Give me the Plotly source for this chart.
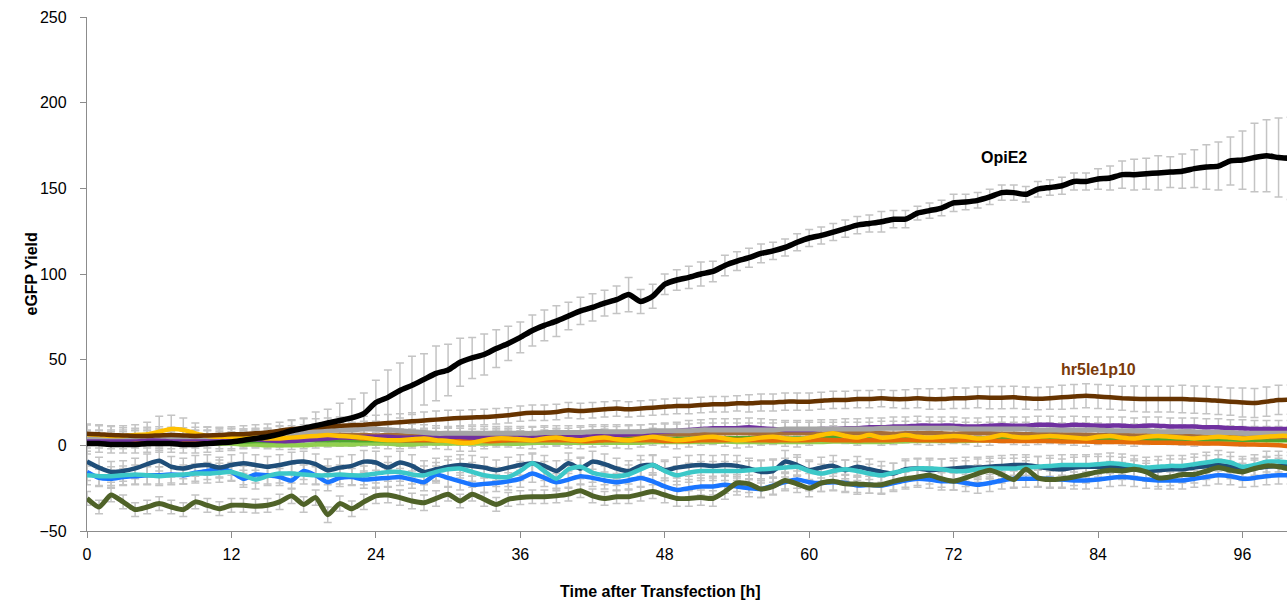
import plotly.graph_objects as go

# ---------------- data (hourly, 0..100 h) ----------------
opie2 = [1,1,0.5,0.5,0.5,1,1,1,0.5,0.5,
         1,1.5,2,3,4,5,6.5,8.5,10,11.5,
         13,14.5,16,18.5,25,28,32,35,38.5,42,
         44,48.5,51,53,56.5,59.5,63,67,70,72.5,
         75.5,78.5,80.5,83,85,88,84,87,94,96.5,
         98,100,101.5,105,107.5,109.5,112,113.5,115.5,118.5,
         121,122.5,124.5,126.5,128.5,129.5,130.5,132,132,135.5,
         137,138.5,141.5,142,143,145,147.5,147.5,146.5,149.5,
         150.5,151.5,154,154,155.5,156,158,158,158.5,159,
         159.5,160,161.5,162.5,163,166,166.5,168,169,168,
         167.5]
opie2_err = [6,5,5,5,5,5,5,5,5,5,
             5,5,5,5,5,5,5,6,6,8,
             8,10,11,12,13,16,16,17,15,16,
             15,14,12,12,11,10,9,9,9,9,
             8,8,8,7.5,8,10,7,7,6,6,
             6.5,7,6,6,5.5,5.5,5.5,5,5,5,
             5,5,5,5,5,5,6,5,5,4,
             4.5,4.5,5,4.5,4.5,4.5,4.5,4.5,4.5,4.5,
             4.5,5,5,5,6,7,8,9,9,10,
             9,10,11,13,14,14,17,20,21,23,
             24]

hr5 = [6.8,6.5,6,5.8,5.5,5.5,5.8,6,5.8,5.5,
       5.8,6,6.4,6.5,7,7.5,8.5,9.5,10,10.5,
       11,11.5,11.7,12,12.5,13,13.5,14,14.5,15,
       15.5,16,16.3,16.5,17,17.5,18.5,19,19,19.5,
       20.5,20,20.5,21,21.5,21,21.5,22,22.5,23,
       23,23.5,24,24,24.5,24.5,25,25,25.5,25.5,
       25.5,26,26.5,26.5,27,27,27.5,27,27,27.5,
       27,27,27.5,27.5,28,27.8,27.8,28,27.5,27.2,
       27.5,28,28.5,29,28.5,28,27.5,27.2,27,27,
       27,27,26.7,26.5,26,25.5,25,24.7,25.5,26.5,
       26.7]
hr5_err = [5,5,5,4.5,4.5,5,5,4.5,4.5,5,
           5,4.5,4.5,5,5,5,5,5.5,5.5,5,
           5,5,5,5,5,5,5,5,5,5,
           5,4.5,4.5,4.5,4.5,4.5,4.5,4.5,4.5,4.5,
           4.5,4.5,4.5,4.5,4.5,4.5,4.5,4.5,4.5,4.5,
           4.5,4.5,4.5,4.5,4.5,5,5,5,5,5,
           5,5,5,5,5,5,5,5,5.5,5.5,
           6,6,6,6,6,6.5,6.5,6.5,6.5,6.5,
           6.5,7,7,7,7,7,7,7.5,7.5,7.5,
           7.5,8,8,8,8,8,8.5,8.5,8.5,8.5,
           8.5]

purple = [3.5,3.5,3,3,3.5,3.5,3,3,3.5,3.5,
          3.5,3,3,3.5,3.5,3,2.5,2.5,3,3.5,
          4,4.5,4.5,5,5,5,4.5,4.5,5,5,
          5,5,4.5,4.5,5,5,5,5.5,5.5,5,
          5,5.5,6,6,6,6.5,7,7.5,8,8.5,
          9,9.5,10,10,10,10.5,10,9.5,9,9,
          9,9.5,9.5,10,10,10.5,10.5,11,11,11.5,
          11.5,11.5,11.5,11,11,11.5,11.7,11.5,11.5,12,
          12,11.5,12,11.7,11.5,11.5,11.5,11,11.5,11.5,
          11,11,11,10.5,10.5,10,10,9.5,9.5,9.5,
          9.5]
purple_err = [5,5,5,5,5,5,5,5,5,5,
              5,5,5,5,5,5,5,5,5,5,
              5,5,5,5,5,5,5,5,5,5,
              5,5,5,5,5,5,5,5,5,5,
              5,5,5,5,5,5,5,5,5,5,
              5.5,5.5,5.5,5.5,5.5,5.5,5.5,5.5,5.5,5.5,
              5.5,5.5,5.5,5.5,5.5,5.5,5.5,5.5,5.5,5.5,
              5,5,5,5,5,5,5,5,5,5,
              5,5,5,5,5,5,5,5,5,5,
              5,5,5,5,5,5,5,5,5,5,
              5]

gray = [5,5,5,5,5,5.5,5.5,5,5,5,
        5,5,5.5,5.5,6,6,6.5,7,7.5,8,
        8.5,9,9,9.5,9.5,9,8.5,8,7.5,7,
        7,7,7,7,7,7,7,7,7.5,7.5,
        7.5,7.5,8,8,8,8,8,8.5,8.5,8.5,
        8.5,9,9,9,9,9,9,9,9.5,9.5,
        9.5,9.5,9.5,9.5,9.5,9.5,10,10,10,10,
        10,10,10,9.5,9.5,9.5,9.5,9.5,9.5,9,
        9,9,9,9,9,8.5,8.5,8.5,8.5,8,
        8,8,8,7.5,7.5,7.5,7,7,7,7,
        7]
gray_err = [4,4,4,4,4,4,4,4,4,4,
            4,4,4,4,4,4,4.5,4.5,4.5,4.5,
            4.5,4.5,4.5,4.5,4.5,4.5,4.5,4.5,4.5,4.5,
            4,4,4,4,4,4,4,4,4,4,
            4,4,4,4,4,4,4,4,4,4,
            4,4,4,4,4,4,4,4,4,4,
            4,4,4,4,4,4,4,4,4,4,
            4,4,4,4,4,4,4,4,4,4,
            4,4,4,4,4,4,4,4,4,4,
            4,4,4,4,4,4,4,4,4,4,
            4]

lbrown = [5.5,5.5,5,5,5,5,4.8,5,5,5.2,
          5,5,4.8,5,5,5.2,5.5,5.5,6,6,
          6,6.2,6,6,5.8,6,6,5.5,5.5,5.5,
          5.5,5.3,5.5,5.5,5.7,5.5,5.5,6,6,6,
          6,6.2,6,6,5.8,6,6,6.5,6.5,6.5,
          6.5,6.7,7,7,7.2,7,6.8,7,7,7.2,
          7,6.8,7,7,7.2,7,7,6.8,7,7,
          7.2,7,6.8,7,7,7,6.8,6.8,6.5,6.5,
          6.5,6.3,6.3,6.2,6,6,6,5.8,5.8,5.6,
          5.5,5.5,5.3,5.2,5.2,5,5,5,4.8,4.8,
          4.8]

yellow = [6.5,6,5.5,5.5,6,6.5,8,9.5,9,7,
          5.5,5,5,4.5,4.5,4,4,4.5,5,5.5,
          6,5.5,5,4.5,3.5,3,3,3.5,4,3,
          2.5,1.5,1.5,3,4,4,3.5,3,4,4.5,
          3.5,3,4,4.5,3.5,3,4,5,4,3,
          3.5,4.5,5,4,3,3.5,4.5,5,4,3.5,
          4.5,6,7,5.5,4.5,6,4.5,5,6,5,
          4.5,5,5.5,5,4,4.5,6,5,4.5,5,
          5.5,5,4.5,4,5,5.5,4.5,4,5,5.5,
          5,4.5,4,4.5,5,4.5,4,4.5,5,5.5,
          5.5]
yellow_err = [6,6,6,6,6,7,9,8,7,6,
              5,5,5,5,5,5,5,5,5,5,
              5,5,5,5,5,5,5,5,5,5,
              5,5,5,5,5,5,5,5,5,5,
              5,5,5,5,5,5,5,5,5,5,
              4.5,4.5,4.5,4.5,4.5,4.5,4.5,4.5,4.5,4.5,
              4.5,4.5,4.5,4.5,4.5,4.5,4.5,4.5,4.5,4.5,
              4.5,4.5,4.5,4.5,4.5,4.5,4.5,4.5,4.5,4.5,
              4.5,4.5,4.5,4.5,4.5,4.5,4.5,4.5,4.5,4.5,
              4.5,4.5,4.5,4.5,4.5,4.5,4.5,4.5,4.5,4.5,
              4.5]

orange = [3.5,3.5,3.5,3,3,3,3.5,3.5,3,3,
          3,3,3.5,3.5,4,4,3.5,3.5,4,4.5,
          5,5,4.5,4,4,3.5,3,3,3,3,
          3,3,3,2.5,2.5,3,3,3,3,3,
          3,2.5,2.5,3,3,3,3,3,2.5,2.5,
          2.5,3,3,3,3.2,3,3,2.8,3,3,
          3,3.2,3,3,2.8,3,3,3,3.2,3,
          3,2.8,2.8,3,3,2.8,2.6,2.5,2.5,2.5,
          2.5,2.3,2.3,2.2,2,2,2,1.8,1.6,1.5,
          1.5,1.3,1.2,1,1,0.8,0.6,0.5,0.3,0,
          -0.5]

lgreen = [1.5,1.5,1.5,1,1,1,1,1.5,1.5,1.5,
          1.5,1,1,0.5,0.5,0,0,0,0,0.5,
          0.5,0.5,0.5,1,1,1,0.5,0.5,1,1,
          1,1,1,1,1,1,1,1.5,1.5,1.5,
          1.5,1.5,1.5,1.5,1.5,1.5,1.5,2,2,2,
          2,2,2,2.2,2,2,1.8,2,2,2,
          2,2,2.2,2.2,2,2,2,2.2,2.4,2.5,
          2.5,2.5,2.5,2.6,2.8,3,3,3,3.2,3.2,
          3.3,3.5,3.5,3.5,3.5,3.5,3.5,3.5,3.5,3.5,
          3.5,3.3,3.3,3.2,3,3,3,3,2.8,2.8,
          2.8]

mgreen = [2.5,2.5,2.5,2.5,2.5,2.8,3,3,2.8,2.5,
          2.5,2.5,2.3,2.3,2.5,2.5,2.5,2.8,3,3,
          3,3,3,3,3,2.8,2.8,2.8,3,3,
          3,3,3,3,3,3,3.2,3.2,3.2,3.5,
          3.5,3.5,3.5,3.5,3.5,3.5,3.5,3.8,3.8,4,
          4,4,4,4.2,4.2,4.2,4.2,4,4,4,
          4,4.2,4.5,4.5,4.2,4,4,4,4.2,4.2,
          4,4,4,4,4,4,4,4,4,4,
          4,4,4,4,3.8,3.8,3.8,3.8,3.8,3.8,
          3.6,3.6,3.5,3.5,3.5,3.5,3.3,3.3,3.3,3.3,
          3.3]

navy = [-9.5,-13,-15.5,-15,-13.5,-11,-9,-12.5,-13.5,-12,
        -11.5,-13,-11.5,-10.5,-11.5,-12.5,-11.5,-10,-9.5,-11,
        -14.5,-13,-12,-9.5,-10,-13,-10,-12,-15.5,-14,
        -12.5,-11.5,-12,-13,-14.5,-13,-11.5,-10.5,-12,-15,
        -10.5,-13.5,-9.5,-11,-13.5,-15,-12,-11.5,-14.5,-13,
        -12,-11.5,-12,-11.5,-12,-13.5,-15.5,-15,-9.5,-11.5,
        -14.5,-13,-12,-14.5,-12.5,-14,-15.5,-16.5,-14,-13.5,
        -14.5,-14,-13.5,-13,-13,-12.5,-12,-11.5,-11.5,-12.5,
        -13.5,-14,-13,-12.5,-12.5,-12.5,-13,-14,-15,-14.5,
        -14,-14,-13,-12,-11.5,-12.5,-14,-13.5,-12.5,-12,
        -12]
navy_err = [6,6,6,6,6,6,6,6,6,6,
            6,6,6,6,6,6,6,6,6,6,
            6.5,6.5,6.5,6.5,6.5,6.5,6.5,6.5,6.5,6.5,
            6,6,6,6,6,6,6,6,6,6,
            6,6,6,6,6,6,6,6,6,6,
            6,6,6,6,6,6,6.5,6.5,6.5,6,
            6,6,6,6,6,6,6,6,6,6,
            6,6,6,6,6,6,6,6,6,6,
            6,6,6,6,6,6,6,6,6,6,
            6,6,6,6,6,6,6,6,6,6,
            6]

cyan = [-17.5,-18,-18,-17.5,-17,-17.5,-18,-17.5,-17,-16.5,
        -16.5,-16,-15.5,-17.5,-20,-18,-16.5,-16.5,-17,-17.5,
        -17.5,-17,-17.5,-17.5,-16.5,-15.5,-15.5,-17,-17.5,-15.5,
        -14,-13.5,-15.5,-17.5,-18.5,-18.5,-15,-10.5,-15,-19.5,
        -14,-12.5,-16,-17.5,-18,-17,-14,-11.5,-15,-17.5,
        -16,-15,-15,-15,-15,-14.5,-14,-13.5,-13,-12.5,
        -15,-16.5,-15,-14,-15,-16.5,-17.5,-16,-14.5,-13.5,
        -13.5,-14,-15,-15,-14,-13.5,-13.5,-13.5,-13,-12.5,
        -12,-11.5,-11.5,-11.5,-11,-10.5,-11,-12,-13,-12.5,
        -12,-12,-11,-10,-9,-10,-12.5,-11.5,-9.5,-9.5,
        -10]
cyan_err = [5.5,5.5,5.5,5.5,5.5,5.5,5.5,5.5,5.5,5.5,
            5.5,5.5,5.5,5.5,5.5,5.5,5.5,5.5,5.5,5.5,
            5.5,5.5,5.5,5.5,5.5,5.5,5.5,5.5,5.5,5.5,
            5.5,5.5,5.5,5.5,5.5,5.5,5.5,5.5,5.5,5.5,
            5.5,5.5,5.5,5.5,5.5,5.5,5.5,5.5,5.5,5.5,
            5.5,5.5,5.5,5.5,5.5,5.5,5.5,5.5,5.5,5.5,
            5.5,5.5,5.5,5.5,5.5,5.5,5.5,5.5,5.5,5.5,
            6,6,6,6,6,6,6,6,6,6,
            6,6,6,6,6,6,6,6,6,6,
            6,6,6,6,6,6,6,6,6,6,
            6]

blue = [-15.5,-19,-19.5,-18.5,-18,-17.5,-17.5,-17,-17.5,-16,
        -15,-13.5,-15.5,-19.5,-17,-17.5,-18.5,-20.5,-15,-17.5,
        -21.5,-19,-18.5,-20,-19.5,-19,-18.5,-20,-21.5,-17,
        -19,-21,-23,-22.5,-22,-21,-19.5,-16.5,-19,-21.5,
        -20,-18,-19,-20.5,-21.5,-20.5,-19,-21,-24,-26,
        -25,-24,-24,-23,-24,-25,-25.5,-23.5,-21.5,-20,
        -21.5,-22,-21.5,-22,-23.5,-23,-23.5,-22,-20.5,-19.5,
        -20,-21,-21,-22,-23,-22,-20.5,-19.5,-19.5,-19.5,
        -19.5,-20,-20.5,-20.5,-20,-19,-18.5,-19,-20,-20.5,
        -20.5,-20.5,-19.5,-18.5,-17.5,-18,-19.5,-19,-18,-17.5,
        -17.5]
blue_err = [5,5,5,5,5,5,5,5,5,5,
            5,5,5,5,5,5,5,5,5,5,
            5,5,5,5,5,5,5,5,5,5,
            5,5,5,5,5,5,5,5,5,5,
            5,5,5,5,5,5,5,5,5,5,
            5,5,5,5,5,5,5,5,5,5,
            5,5,5,5,5,5,5,5,5,5,
            5,5,5,5,5,5,5,5,5,5,
            5,5,5,5,5,5,5,5,5,5,
            5,5,5,5,5,5,5,5,5,5,
            5]

olive = [-31,-36,-29,-33,-37.5,-36,-34,-36,-37.5,-33,
         -35,-37,-35,-35,-35.5,-35,-33,-29.5,-34.5,-30.5,
         -40.5,-34,-37,-33,-29.5,-29,-30.5,-32.5,-33.5,-31,
         -28.5,-32.5,-28.5,-31.5,-34.5,-31.5,-30.5,-30,-30,-29.5,
         -28.5,-26.5,-29.5,-31,-30,-30,-28.5,-27,-29,-31,
         -31,-30.5,-31,-27,-22,-22.5,-25.5,-24,-20.5,-22.5,
         -25,-22,-21,-22.5,-22.5,-23,-23,-21,-19.5,-18.5,
         -17.5,-19.5,-21,-19,-16.5,-14.5,-17,-20,-14,-19,
         -20,-19.5,-18.5,-17,-15.5,-14.5,-15,-14,-15.5,-19,
         -18.5,-17,-17,-15,-13,-14.5,-15.5,-13.5,-12,-12.5,
         -14]
olive_err = [4,4,4,4,4,4,4,4,4,4,
             4,4,4,4,4,4,4.5,4.5,4.5,4.5,
             4.5,4.5,4.5,4.5,4.5,4.5,4.5,4.5,4.5,4.5,
             4,4,4,4,4,4,4,4,4,4,
             4,4,4,4,4,4,4,4,4.5,4.5,
             4.5,4.5,4.5,4.5,5,5,5,5,5,5,
             5,5,5,5,5,5,5,5,5,5,
             5,5,5,5,5,5,5,5,5,5,
             5,5,5,5,5,5,5,5,5,5,
             5,5,5,5,5,5,5,5,5,5,
             5]

# ---------------- figure ----------------
ERR_COLOR = "#C4C4C4"
FONT = "Arial, 'Liberation Sans', sans-serif"

# (values, errors, color, width)  order = drawing order, bottom to top
series = [
    (blue, blue_err, "#1A75FF", 4.5),
    (navy, navy_err, "#1F4E79", 4.5),
    (cyan, cyan_err, "#3CC8C8", 4.5),
    (olive, olive_err, "#4F6228", 5),
    (lgreen, None, "#92D050", 4.5),
    (mgreen, None, "#4EA72E", 4.5),
    (orange, None, "#E46C0A", 4.5),
    (lbrown, None, "#A66E38", 4.5),
    (purple, purple_err, "#7030A0", 4.5),
    (gray, gray_err, "#A5A5A5", 5),
    (yellow, yellow_err, "#FFC000", 4.5),
    (hr5, hr5_err, "#663300", 4.5),
    (opie2, opie2_err, "#000000", 5.5),
]

fig = go.Figure()

# error bars first, so every line lies on top of them
for vals, errs, color, w in series:
    if errs is None:
        continue
    fig.add_trace(go.Scatter(
        x=list(range(len(vals))), y=vals, mode="lines",
        line=dict(color="rgba(0,0,0,0)", width=0),
        error_y=dict(type="data", array=errs, visible=True,
                     color=ERR_COLOR, thickness=1.5, width=4),
        hoverinfo="skip", showlegend=False))

for vals, errs, color, w in series:
    fig.add_trace(go.Scatter(
        x=list(range(len(vals))), y=vals, mode="lines",
        line=dict(color=color, width=w, shape="spline", smoothing=0.6),
        showlegend=False))

fig.add_annotation(x=76.2, y=168, xref="x", yref="y", text="<b>OpiE2</b>",
                   showarrow=False, font=dict(family=FONT, size=16, color="#000000"))
fig.add_annotation(x=84.0, y=44, xref="x", yref="y", text="<b>hr5le1p10</b>",
                   showarrow=False, font=dict(family=FONT, size=16, color="#7A3A0A"))

# axis titles
fig.add_annotation(x=(660 - 87) / 1200, y=-0.117, xref="paper", yref="paper",
                   text="<b>Time after Transfection [h]</b>", showarrow=False,
                   yanchor="middle", font=dict(family=FONT, size=16, color="#000000"))
fig.add_annotation(x=(20 - 87) / 1200, y=0.5, xref="paper", yref="paper",
                   text="<b>eGFP Yield</b>", showarrow=False, textangle=-90,
                   font=dict(family=FONT, size=16, color="#000000"))

fig.update_layout(
    width=1287, height=605,
    margin=dict(l=87, r=0, t=17, b=74),
    plot_bgcolor="white", paper_bgcolor="white",
    font=dict(family=FONT, size=16, color="#000000"),
    xaxis=dict(range=[0, 99.7], tick0=0, dtick=12, showgrid=False, zeroline=False,
               showline=True, linecolor="#8C8C8C", linewidth=1.3,
               ticks="outside", ticklen=6, tickcolor="#8C8C8C", tickwidth=1.3,
               tickfont=dict(family=FONT, size=16, color="#000000"),
               ticklabelstandoff=3),
    yaxis=dict(range=[-50, 250], tick0=-50, dtick=50, showgrid=False, zeroline=False,
               showline=True, linecolor="#8C8C8C", linewidth=1.3,
               ticks="outside", ticklen=6, tickcolor="#8C8C8C", tickwidth=1.3,
               tickfont=dict(family=FONT, size=16, color="#000000"),
               ticklabelstandoff=10),
)

fig.write_html("out.html")
